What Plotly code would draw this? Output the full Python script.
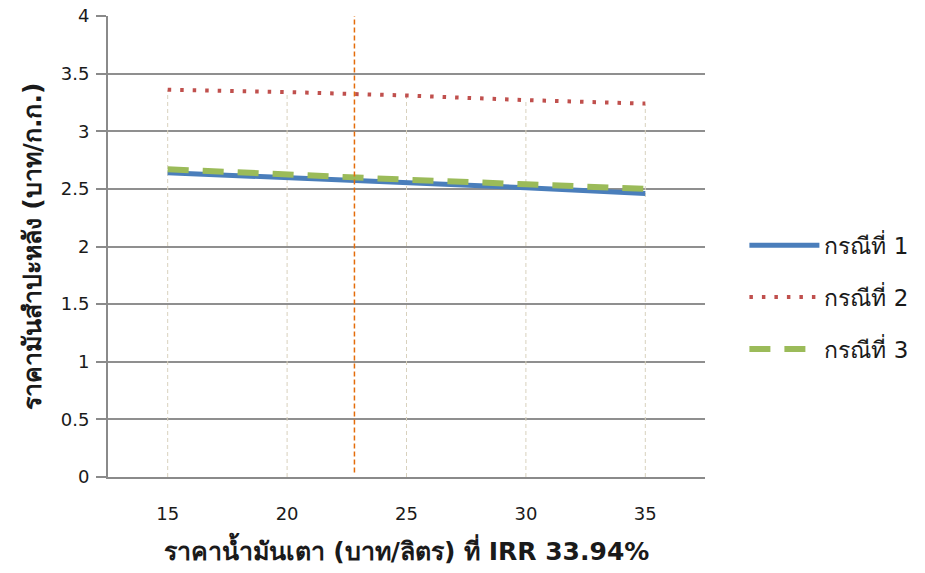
import plotly.graph_objects as go

oil_price = [15, 20, 25, 30, 35]
case1 = [2.64, 2.60, 2.56, 2.51, 2.46]
case2 = [3.36, 3.34, 3.31, 3.27, 3.24]
case3 = [2.67, 2.62, 2.58, 2.54, 2.50]
series_names = ["กรณีที่ 1", "กรณีที่ 2", "กรณีที่ 3"]
breakeven_price = 22.82
y_ticks = [0, 0.5, 1, 1.5, 2, 2.5, 3, 3.5, 4]

FONT = "'DejaVu Sans', Tahoma, sans-serif"
TXT = "#1a1a1a"

fig = go.Figure()

# drop lines from highest point down to axis
top = [max(a, b, c) for a, b, c in zip(case1, case2, case3)]
for x, t in zip(oil_price, top):
    fig.add_trace(go.Scatter(x=[x, x], y=[0, t], mode="lines",
                             line=dict(color="#d8d1bd", width=1, dash="4px,3px"),
                             showlegend=False, hoverinfo="skip"))

fig.add_trace(go.Scatter(x=oil_price, y=case1, mode="lines", name=series_names[0],
                         legendgroup="a",
                         line=dict(color="#4a7ebb", width=5)))
fig.add_trace(go.Scatter(x=oil_price, y=case2, mode="lines", name=series_names[1],
                         legendgroup="b",
                         line=dict(color="#c0504d", width=4, dash="3.5px,9px")))
fig.add_trace(go.Scatter(x=oil_price, y=case3, mode="lines", name=series_names[2],
                         legendgroup="c",
                         line=dict(color="#9bbb59", width=6, dash="21px,14px")))

fig.add_shape(type="line", xref="x", yref="y", x0=breakeven_price, x1=breakeven_price,
              y0=0.04, y1=4, line=dict(color="#e46c0a", width=1.5, dash="5px,3px"))

fig.update_layout(
    width=925, height=573,
    margin=dict(l=108, r=220, t=16, b=96),
    paper_bgcolor="white", plot_bgcolor="white",
    font=dict(family=FONT, color=TXT, size=18),
    legend=dict(x=1.066, y=0.39, xanchor="left", yanchor="middle",
                font=dict(size=23, family=FONT, color=TXT),
                tracegroupgap=19, traceorder="grouped", itemwidth=70),
    xaxis=dict(range=[12.5, 37.5], tickvals=oil_price, ticks="", showgrid=False,
               showline=True, linecolor="#8a8a8a", linewidth=2, zeroline=False,
               tickfont=dict(size=18), ticklabelstandoff=19, automargin=False,
               title=dict(text="<b>ราคาน้ำมันเตา (บาท/ลิตร) ที่ IRR 33.94%</b>",
                          font=dict(size=25), standoff=20)),
    yaxis=dict(range=[0, 4], tickvals=y_ticks, ticks="outside", ticklen=10,
               tickcolor="#8a8a8a", tickwidth=2, automargin=False,
               showgrid=True, gridcolor="#8f8f8f", gridwidth=1.5,
               showline=True, linecolor="#8a8a8a", linewidth=2, zeroline=False,
               tickfont=dict(size=18), ticklabelstandoff=3,
               title=dict(text="<b>ราคามันสำปะหลัง (บาท/ก.ก.)</b>",
                          font=dict(size=25), standoff=12)),
)

fig.write_html("out.html")
